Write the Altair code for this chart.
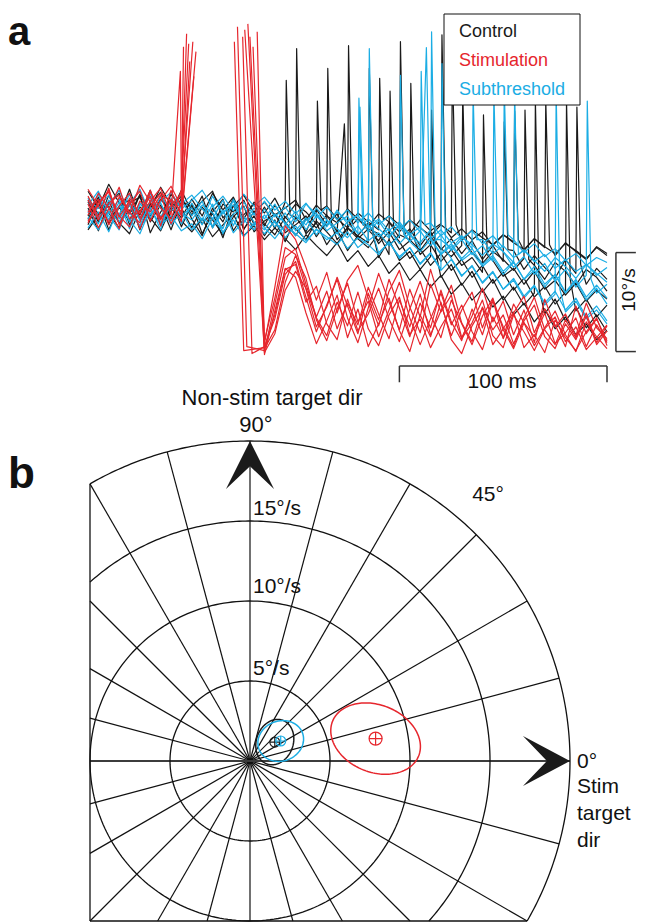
import math
import numpy as np
import pandas as pd
import altair as alt

# ======================= panel a : eye-velocity traces =======================
TIMES = list(range(0, 251, 5))          # ms, sample grid
N = None                                 # blanked samples (stimulation artifact)

CTRL_1 = [0.8,-1.2,1.5,-0.6,2.1,-1.0,0.4,1.8,-0.9,1.2, -0.5,1.4,-1.8,0.6,-0.2,1.0,-1.5,
          0.3,-1.9,0.8,-0.7,-2.2,0.1,-1.6,-0.4,-2.5,-0.9,-2.0,-3.1,-1.2,-2.8,-1.9,-3.6,-2.2,-4.0,-2.9,-4.4,
          -3.1,-5.0,-3.6,-5.2,-4.1,-6.0,-4.6,-5.8,-6.9,-5.0,-6.4,-7.5,-5.9,-7.0]
CTRL_2 = [-1.5,0.9,-2.0,0.3,-1.1,1.6,-2.3,-0.2,1.0,-1.7, 0.6,-2.4,-0.3,-2.8,0.5,-1.9,-0.6,
          -2.6,-1.0,-3.2,-0.8,-2.4,-1.3,-3.5,-2.0,-4.1,-2.6,-3.3,-4.8,-3.0,-5.1,-4.2,-6.0,-4.7,-6.8,-5.5,-7.6,
          -6.2,-8.3,-7.0,-9.1,-7.8,-9.6,-8.4,-10.5,-9.0,-11.2,-9.8,-11.9,-10.6,-12.3]
CTRL_3 = [1.9,0.2,2.6,0.7,-0.4,1.5,0.1,2.3,0.5,-0.8, 1.1,-0.6,1.7,0.0,1.3,-0.9,0.8,
          -0.3,1.2,-0.8,0.6,-0.2,-1.4,0.4,-0.9,-1.8,-0.3,-1.2,-2.0,-0.6,-1.5,-2.4,-1.0,-2.1,-1.4,-2.8,-1.9,
          -3.0,-2.2,-3.6,-2.5,-3.2,-4.1,-2.9,-3.8,-4.6,-3.3,-4.2,-5.0,-3.7,-4.4]
CTRL_4 = [-0.6,1.3,-1.4,0.4,1.0,-2.0,0.7,-0.9,1.6,0.2, -1.8,0.3,-1.0,-2.5,-0.7,0.4,-2.2,
          -1.1,-0.4,-2.3,-1.5,-0.6,-2.7,-1.2,-3.0,-1.8,-2.6,-1.3,-3.4,-2.2,-4.0,-3.1,-4.5,-3.5,-5.2,-4.0,-5.6,
          -4.8,-6.3,-5.1,-6.7,-5.9,-7.5,-6.2,-8.0,-7.1,-8.6,-7.4,-9.2,-8.1,-9.0]
CTRL_5 = [0.2,-2.1,0.9,-1.3,0.0,-0.5,2.0,-1.6,0.3,1.4, -0.9,-2.6,0.2,-1.2,1.2,-2.0,-0.1,
          -1.6,0.5,-1.2,-2.6,-0.9,-1.8,-0.5,-2.2,-1.0,-2.9,-1.9,-2.4,-3.6,-2.5,-3.0,-4.1,-2.7,-3.9,-4.7,-3.6,
          -4.3,-5.4,-4.2,-5.0,-6.1,-4.9,-5.6,-7.0,-5.3,-6.2,-7.6,-6.0,-6.8,-8.2]
CTRL_6 = [-0.9,1.1,-0.3,-1.8,0.7,1.3,-1.2,0.5,-2.0,0.9, 0.3,-1.4,-0.2,1.1,-2.1,-0.5,0.6,
          -1.4,-2.5,-0.7,-1.9,-3.0,-1.1,-2.2,-3.4,-1.8,-2.9,-3.8,-2.4,-4.5,-3.2,-4.9,-3.9,-5.6,-4.4,-6.1,-5.0,
          -6.8,-5.6,-7.4,-6.3,-8.1,-6.9,-8.8,-7.7,-9.5,-8.3,-10.2,-9.0,-10.8,-9.6]
CTRL_7 = [1.0,-0.4,0.6,1.7,-1.5,0.3,-0.6,1.1,-0.2,2.0, -0.2,0.9,1.9,-0.8,0.4,1.5,-0.3,
          0.8,-0.5,0.2,1.0,-1.0,0.5,-0.6,-1.3,0.1,-0.9,-1.7,-0.4,-1.2,-2.2,-1.0,-1.8,-2.6,-1.5,-2.3,-3.1,
          -2.0,-2.8,-3.5,-2.5,-3.3,-4.0,-2.9,-3.7,-4.4,-3.4,-4.1,-4.9,-3.8,-4.6]
CTRL_8 = [-2.0,-0.5,0.4,-1.3,-2.4,0.0,-0.8,-2.1,0.2,-1.1, -2.2,-0.9,-2.7,-1.5,-0.4,-2.6,-1.6,
          -3.0,-1.8,-2.9,-4.0,-2.5,-3.6,-4.6,-3.3,-5.2,-4.1,-5.7,-4.6,-6.4,-5.3,-7.1,-6.0,-7.8,-6.6,-8.5,-7.4,
          -9.1,-8.0,-9.8,-8.7,-10.6,-9.4,-11.3,-10.0,-12.0,-10.8,-12.6,-11.5,-13.1,-12.2]

SUB_1 = [-0.3,1.6,-1.0,0.8,-1.9,0.5,1.2,-0.7,0.9,-1.4, 0.7,-1.1,1.4,-0.4,0.9,-1.3,0.2,
         -0.9,0.6,-1.5,-0.1,-2.0,-0.6,-1.7,0.0,-1.4,-2.3,-0.9,-1.9,-2.8,-1.4,-2.6,-3.3,-2.0,-3.0,-3.9,-2.7,
         -3.5,-4.6,-3.4,-4.2,-5.3,-4.0,-5.1,-6.2,-4.8,-5.7,-6.9,-5.5,-6.4,-7.3]
SUB_2 = [1.2,-0.8,0.5,2.0,-0.3,-1.6,0.9,0.2,-1.1,0.6, 1.5,0.1,-0.9,1.0,-1.6,0.8,-0.5,
         0.9,-0.7,0.3,-1.2,0.6,-0.4,-1.5,-0.2,-1.1,-0.5,-1.8,-0.9,-2.1,-1.2,-2.5,-1.7,-2.9,-2.0,-3.3,-2.6,
         -3.9,-3.0,-4.4,-3.6,-4.8,-4.1,-5.2,-4.5,-5.9,-5.0,-6.2,-5.5,-6.6,-5.8]
SUB_3 = [-1.8,-0.2,-2.2,0.4,-1.0,-2.4,0.1,-1.5,-0.6,-2.1, -1.4,-2.9,-0.8,-2.2,-1.0,-2.7,-1.3,
         -2.4,-1.1,-2.8,-1.6,-3.1,-2.0,-2.7,-3.5,-2.2,-3.8,-2.9,-4.3,-3.3,-4.7,-3.8,-5.4,-4.3,-6.0,-4.9,-6.6,
         -5.7,-7.4,-6.3,-8.0,-7.1,-8.9,-7.7,-9.6,-8.5,-10.3,-9.2,-11.0,-10.1,-11.5]
SUB_4 = [0.5,1.9,-0.4,1.1,-1.2,0.7,-0.8,1.4,-0.1,0.9, -0.6,0.9,-1.8,-0.2,0.5,-1.0,-2.0,
         -0.5,-1.7,-0.3,-2.1,-0.8,-2.5,-1.0,-1.9,-2.8,-1.6,-3.1,-2.3,-3.6,-2.6,-3.2,-4.2,-3.0,-4.5,-3.6,-5.1,
         -4.3,-5.7,-4.8,-6.5,-5.3,-7.0,-6.1,-7.8,-6.5,-8.4,-7.2,-9.1,-7.9,-9.5]
SUB_5 = [-1.0,0.3,-0.6,-2.0,0.8,-0.9,1.7,-1.3,0.4,-0.5, 0.2,-1.5,0.6,-2.4,-0.4,0.3,-1.2,
         -2.0,-0.4,-1.3,-2.6,-1.0,-0.3,-2.1,-1.3,-0.6,-2.4,-1.5,-2.7,-1.9,-3.4,-2.3,-3.9,-2.8,-4.4,-3.4,-4.9,
         -3.9,-5.5,-4.6,-6.2,-5.2,-7.0,-5.7,-7.5,-6.5,-8.3,-7.0,-8.8,-7.6,-8.9]
SUB_6 = [0.0,-1.4,1.0,-0.5,1.6,-1.1,0.3,-2.0,1.2,-0.3, -1.0,0.5,-0.3,-1.9,1.1,-0.7,-1.6,
         0.1,-1.3,-2.1,-0.6,-1.5,0.2,-1.0,-2.4,-1.2,-0.5,-2.2,-1.1,-2.6,-1.6,-3.2,-2.1,-3.6,-2.5,-4.1,-3.0,
         -4.5,-3.6,-5.2,-4.2,-5.8,-4.7,-6.5,-5.4,-7.2,-6.0,-7.8,-6.6,-8.4,-7.5]
SUB_7 = [0.9,0.2,1.5,-0.9,0.6,2.1,-0.5,0.8,1.8,0.1, 1.0,2.0,0.3,1.4,-0.1,1.6,0.4,
         1.3,0.0,0.9,-0.4,0.7,-0.8,0.3,-1.0,0.0,-1.3,-0.3,-1.5,-0.6,-1.9,-1.0,-2.2,-1.3,-2.6,-1.7,-2.9,
         -2.1,-3.4,-2.6,-3.8,-3.0,-4.3,-3.4,-4.7,-3.9,-5.1,-4.4,-5.6,-4.8,-5.3]
SUB_8 = [-0.7,-2.0,-0.1,-1.2,0.5,-1.7,-0.4,0.7,-1.5,-0.2, -2.0,-0.8,-1.6,0.0,-2.3,-1.1,-0.3,
         -1.8,-2.9,-1.5,-2.4,-3.3,-1.9,-3.0,-2.3,-3.9,-2.8,-3.5,-4.5,-3.2,-4.9,-3.8,-5.5,-4.4,-6.1,-5.0,-6.7,
         -5.6,-7.3,-6.2,-8.0,-6.9,-8.7,-7.6,-9.4,-8.2,-10.1,-8.9,-10.8,-9.7,-11.2]

STIM_1 = [1.4,-0.7,2.2,-1.5,0.6,1.9,-1.1,1.0,2.4,0.3, N,N,N,N,N,N,N,
          -14.2,-9.5,-4.8,-3.9,-7.5,-10.8,-8.2,-12.0,-9.4,-11.6,-7.8,-10.5,-13.0,-9.1,-11.8,-8.5,-12.6,-10.2,
          -7.6,-11.4,-13.3,-9.8,-12.1,-10.6,-13.5,-11.2,-9.6,-12.8,-14.0,-11.5,-13.1,-10.7,-13.6,-12.2]
STIM_2 = [-0.5,1.7,0.2,-1.9,1.2,-0.4,2.0,-0.8,0.5,1.6, N,N,N,N,N,N,N,
          -13.8,-11.0,-6.5,-5.2,-8.8,-12.3,-9.6,-7.0,-10.9,-13.4,-9.9,-6.4,-9.3,-12.1,-8.0,-10.8,-6.0,-9.5,
          -12.7,-10.1,-8.3,-11.9,-9.0,-13.0,-10.4,-8.7,-12.4,-10.0,-11.6,-13.8,-9.7,-12.5,-11.0,-13.2]
STIM_3 = [2.1,0.4,-1.2,1.3,-0.3,2.5,0.8,-1.0,1.1,-0.2, N,N,N,N,N,N,N,
          -14.6,-10.2,-5.9,-6.8,-10.4,-13.5,-11.2,-8.6,-12.9,-10.0,-13.8,-11.5,-8.9,-12.2,-14.3,-10.6,-12.8,-9.3,
          -13.1,-14.5,-11.7,-9.9,-13.6,-12.0,-10.3,-13.9,-12.6,-14.4,-11.1,-12.9,-14.2,-12.3,-10.9,-13.7]
STIM_4 = [-1.3,0.8,1.8,-0.6,-1.7,0.9,-0.2,1.5,-1.4,0.7, N,N,N,N,N,N,N,
          -13.5,-7.8,-1.6,-3.0,-5.8,-9.1,-6.3,-10.4,-7.1,-5.6,-8.9,-11.7,-8.2,-6.1,-9.8,-12.4,-7.5,-10.3,
          -8.6,-12.9,-10.7,-7.9,-11.3,-9.2,-12.6,-10.1,-13.4,-9.0,-11.8,-10.5,-12.7,-9.4,-11.9,-13.0]
STIM_5 = [0.6,-1.8,0.1,2.3,-0.9,-0.1,1.4,-1.6,2.0,-0.6, N,N,N,N,N,N,N,
          -14.0,-12.1,-7.3,-4.6,-6.9,-11.1,-13.2,-10.0,-7.4,-11.3,-9.2,-12.8,-10.1,-7.3,-10.9,-13.6,-11.0,-8.4,
          -11.6,-9.6,-12.3,-14.1,-10.8,-12.9,-9.5,-11.4,-13.7,-11.9,-10.2,-12.6,-14.3,-11.3,-12.8,-14.0]
STIM_6 = [-0.2,1.1,-1.5,0.4,1.7,-0.8,0.9,2.2,-0.5,1.0, N,N,N,N,N,N,N,
          -13.9,-10.6,-6.0,-5.5,-9.3,-7.7,-11.5,-13.1,-9.0,-12.2,-10.5,-7.9,-11.0,-13.3,-10.0,-7.2,-10.6,-12.9,
          -9.1,-11.5,-13.6,-10.7,-8.9,-12.1,-14.0,-11.4,-12.8,-10.4,-13.5,-12.4,-10.9,-13.8,-11.6,-13.4]
STIM_7 = [1.0,-1.0,0.7,1.5,-0.2,-1.3,1.8,0.2,-0.9,2.0, N,N,N,N,N,N,N,
          -14.4,-12.5,-8.1,-6.2,-7.9,-10.9,-12.7,-9.3,-11.7,-8.3,-12.0,-13.7,-10.6,-8.8,-12.6,-11.0,-13.9,-11.8,
          -10.0,-13.0,-11.4,-9.1,-12.7,-13.9,-10.6,-12.3,-14.2,-12.0,-10.8,-13.3,-11.8,-14.1,-12.9,-11.6]
STIM_8 = [-1.1,0.5,2.0,-0.7,0.9,-1.9,0.4,1.7,0.8,-1.2, N,N,N,N,N,N,N,
          -13.2,-8.9,-3.8,-4.5,-8.0,-11.8,-9.8,-6.8,-9.7,-12.5,-8.4,-11.1,-7.0,-9.9,-12.8,-9.4,-11.9,-8.1,
          -11.3,-13.2,-10.0,-12.6,-9.2,-11.8,-13.8,-10.9,-8.8,-12.1,-13.6,-11.1,-12.9,-10.4,-13.4,-11.7]

# saccade-like spikes: (peak time ms, peak deg/s, value after the spike deg/s)
SPIKES = {
    "C1": [(95.5, 13.1, -0.5), (125.5, 16.6, -1.5), (150.5, 17.0, -2.5), (200.5, 8.9, -4.0), (235.5, 10.4, -5.5)],
    "C2": [(100.5, 16.3, -1.0), (135.5, 14.3, -2.5), (165.5, 10.1, -4.0), (215.5, 11.1, -8.0)],
    "C3": [(110.5, 11.0, 0.0), (140.5, 13.3, -1.0), (170.5, 17.7, -2.0), (205.5, 10.0, -3.0), (220.5, 11.1, -3.5)],
    "C4": [(115.5, 14.3, -1.5), (155.5, 12.8, -3.0), (190.5, 9.6, -4.5)],
    "C5": [(123.5, 8.7, -1.0), (180.5, 12.1, -3.5), (210.5, 10.1, -5.0)],
    "C6": [(145.5, 12.0, -2.5), (230.5, 11.0, -7.0)],
    "C7": [(175.5, 15.0, -1.5)],
    "S1": [(130.5, 11.3, -1.5), (165.5, 18.0, -3.0), (205.5, 12.0, -4.5)],
    "S2": [(131.0, 10.4, -1.0), (185.5, 12.0, -3.0)],
    "S3": [(135.5, 16.3, -2.5), (170.5, 14.8, -4.0), (225.5, 12.0, -8.0)],
    "S4": [(150.5, 13.6, -2.5)],
    "S5": [(163.0, 16.4, -2.0)],
    "S6": [(195.5, 12.0, -3.5), (240.5, 11.0, -7.0)],
    "S7": [(160.5, 14.0, -1.5), (200.5, 12.5, -2.5)],
}
SPIKE_FALL = 1.8   # ms from spike peak back to the trace

# stimulation traces: onset spike before blanking, artifact points after blanking (time, deg/s)
STIM_EXTRA = {
    "R1": [(46.0, 16.5), (72.0, 18.5), (76.5, -13.8)],
    "R2": [(47.5, 17.8), (74.5, 17.5), (79.0, -14.5)],
    "R3": [(49.0, 15.0), (77.0, 18.8)],
    "R4": [(50.5, 17.0), (79.5, 16.5)],
    "R5": [(52.0, 16.0), (81.5, 18.0)],
    "R6": [(44.5, 14.0), (70.5, 17.0), (75.0, -14.2)],
    "R7": [(48.5, 16.8), (75.5, 18.2)],
    "R8": [(51.0, 13.5), (78.0, 17.5)],
}
BLANK_SPLIT = 60   # ms: stimulation traces are broken here

GROUPS = [
    ("Control", "#1a1a1a", [("C1", CTRL_1), ("C2", CTRL_2), ("C3", CTRL_3), ("C4", CTRL_4),
                            ("C5", CTRL_5), ("C6", CTRL_6), ("C7", CTRL_7), ("C8", CTRL_8)], False),
    ("Subthreshold", "#1BADE4", [("S1", SUB_1), ("S2", SUB_2), ("S3", SUB_3), ("S4", SUB_4),
                                 ("S5", SUB_5), ("S6", SUB_6), ("S7", SUB_7), ("S8", SUB_8)], False),
    ("Stimulation", "#E6262D", [("R1", STIM_1), ("R2", STIM_2), ("R3", STIM_3), ("R4", STIM_4),
                                ("R5", STIM_5), ("R6", STIM_6), ("R7", STIM_7), ("R8", STIM_8)], True),
]


def build(name, values, split):
    assert len(values) == len(TIMES), name
    pts = [(t, v) for t, v in zip(TIMES, values) if v is not None]
    for t, peak, back in SPIKES.get(name, []):
        pts += [(t, peak), (t + SPIKE_FALL, back)]
    pts += STIM_EXTRA.get(name, [])
    pts.sort()
    rows = []
    for t, v in pts:
        seg = (1 if t > BLANK_SPLIT else 0) if split else 0
        rows.append({"t": t, "v": v, "seg": f"{name}-{seg}"})
    return rows


XA = alt.Scale(domain=[0, 250], range=[80, 599], nice=False, zero=False)
YA = alt.Scale(domain=[-15, 19], range=[350.5, 13.9], nice=False, zero=False)
XB = alt.Scale(domain=[-10, 20], range=[82, 562], nice=False, zero=False)
YB = alt.Scale(domain=[-10, 20], range=[913, 433], nice=False, zero=False)

FONT = "Liberation Sans"
layers = []

for cond, color, traces, split in GROUPS:
    rows = []
    for name, vals in traces:
        rows += build(name, vals, split)
    df = pd.DataFrame(rows)
    layers.append(
        alt.Chart(df).mark_line(color=color, strokeWidth=1.2, strokeJoin="round").encode(
            x=alt.X("t:Q", scale=XA, axis=None),
            y=alt.Y("v:Q", scale=YA, axis=None),
            detail="seg:N",
        )
    )

# legend box
LEGEND = [("Control", "#1a1a1a"), ("Stimulation", "#E6262D"), ("Subthreshold", "#1BADE4")]
one = pd.DataFrame({"k": [0]})
layers.append(alt.Chart(one).mark_rect(fill="white", stroke="#111", strokeWidth=1).encode(
    x=alt.value(436), x2=alt.value(572), y=alt.value(6), y2=alt.value(97)))
for i, (lab, col) in enumerate(LEGEND):
    layers.append(alt.Chart(pd.DataFrame({"label": [lab]})).mark_text(
        align="left", baseline="alphabetic", font=FONT, fontSize=18, color=col).encode(
        x=alt.value(451), y=alt.value(29 + 29 * i), text="label:N"))

# scale bars (100 ms, 10 deg/s)
SB_T0, SB_T1, SB_V = 150, 250, -15.76
SB_TICK = -17.4
VB_T, VB_V0, VB_V1, VB_TICK_T = 254.3, -14.3, -4.3, 263.9
bars = pd.DataFrame([
    {"t": SB_T0, "v": SB_V, "t2": SB_T1, "v2": SB_V},
    {"t": SB_T0, "v": SB_V, "t2": SB_T0, "v2": SB_TICK},
    {"t": SB_T1, "v": SB_V, "t2": SB_T1, "v2": SB_TICK},
    {"t": VB_T, "v": VB_V0, "t2": VB_T, "v2": VB_V1},
    {"t": VB_T, "v": VB_V0, "t2": VB_TICK_T, "v2": VB_V0},
    {"t": VB_T, "v": VB_V1, "t2": VB_TICK_T, "v2": VB_V1},
])
layers.append(alt.Chart(bars).mark_rule(color="#333", strokeWidth=1.5).encode(
    x=alt.X("t:Q", scale=XA, axis=None), y=alt.Y("v:Q", scale=YA, axis=None),
    x2="t2:Q", y2="v2:Q"))


def label(text, x, y, size=21, align="left", baseline="alphabetic", angle=0, weight="normal",
          font=FONT, color="#111"):
    kw = dict(align=align, baseline=baseline, font=font, fontSize=size, color=color, fontWeight=weight)
    if angle:
        kw["angle"] = angle
    return alt.Chart(pd.DataFrame({"label": [text]})).mark_text(**kw).encode(
        x=alt.value(x), y=alt.value(y), text="label:N")


layers.append(label("100 ms", 494, 380, align="center"))
layers.append(label("10°/s", 621, 282, size=19, align="center", baseline="middle", angle=270))
layers.append(label("a", 0, 37, size=40, weight="bold"))
layers.append(label("b", 0, 480, size=44, weight="bold"))

# ======================= panel b : polar plot =======================
RINGS = [5, 10, 15, 20]        # deg/s
SPOKE_STEP = 15                # deg
R_MAX = 20
BOX_MIN = -10

# spokes clipped to the box
spokes = []
for a in range(0, 360, SPOKE_STEP):
    th = math.radians(a)
    c, s = math.cos(th), math.sin(th)
    r = R_MAX
    if c < -1e-9:
        r = min(r, BOX_MIN / c)
    if s < -1e-9:
        r = min(r, BOX_MIN / s)
    spokes.append({"x": 0.0, "y": 0.0, "x2": r * c, "y2": r * s, "axis": a % 180 == 0})
spk = pd.DataFrame(spokes)
layers.append(alt.Chart(spk[~spk["axis"]]).mark_rule(color="#111", strokeWidth=1.2).encode(
    x=alt.X("x:Q", scale=XB, axis=None), y=alt.Y("y:Q", scale=YB, axis=None), x2="x2:Q", y2="y2:Q"))
layers.append(alt.Chart(spk[spk["axis"]]).mark_rule(color="#3c3c3c", strokeWidth=2).encode(
    x=alt.X("x:Q", scale=XB, axis=None), y=alt.Y("y:Q", scale=YB, axis=None), x2="x2:Q", y2="y2:Q"))

# box edges
edge = math.sqrt(R_MAX ** 2 - BOX_MIN ** 2)
edges = pd.DataFrame([
    {"x": BOX_MIN, "y": BOX_MIN, "x2": BOX_MIN, "y2": edge},
    {"x": BOX_MIN, "y": BOX_MIN, "x2": edge, "y2": BOX_MIN},
])
layers.append(alt.Chart(edges).mark_rule(color="#111", strokeWidth=1.3).encode(
    x=alt.X("x:Q", scale=XB, axis=None), y=alt.Y("y:Q", scale=YB, axis=None), x2="x2:Q", y2="y2:Q"))

# ring arcs clipped to the box
ring_rows = []
for r in RINGS:
    if r <= -BOX_MIN:
        lo, hi = 0.0, 2 * math.pi
    else:
        lo, hi = -math.asin(-BOX_MIN / r), math.acos(BOX_MIN / r)
    for i, th in enumerate(np.linspace(lo, hi, 240)):
        ring_rows.append({"ring": r, "i": i, "x": r * math.cos(th), "y": r * math.sin(th)})
layers.append(alt.Chart(pd.DataFrame(ring_rows)).mark_line(color="#111", strokeWidth=1.3).encode(
    x=alt.X("x:Q", scale=XB, axis=None), y=alt.Y("y:Q", scale=YB, axis=None),
    detail="ring:N", order="i:Q"))

# confidence ellipses and means
ELLIPSES = [
    # name, cx, cy, semi-a, semi-b, tilt deg, colour
    ("Control", 1.55, 1.18, 1.45, 1.15, 70, "#1a1a1a"),
    ("Subthreshold", 1.92, 1.25, 1.45, 1.25, 20, "#1BADE4"),
    ("Stimulation", 7.85, 1.40, 2.90, 2.10, -22, "#E6262D"),
]
for name, cx, cy, a, b, tilt, col in ELLIPSES:
    ph = math.radians(tilt)
    rows = []
    for i, u in enumerate(np.linspace(0, 2 * math.pi, 160)):
        ex, ey = a * math.cos(u), b * math.sin(u)
        rows.append({"i": i, "x": cx + ex * math.cos(ph) - ey * math.sin(ph),
                     "y": cy + ex * math.sin(ph) + ey * math.cos(ph)})
    layers.append(alt.Chart(pd.DataFrame(rows)).mark_line(color=col, strokeWidth=1.5).encode(
        x=alt.X("x:Q", scale=XB, axis=None), y=alt.Y("y:Q", scale=YB, axis=None), order="i:Q"))
    msize = 170 if name == "Stimulation" else 100
    ctr = pd.DataFrame({"x": [cx], "y": [cy]})
    for shape in ["circle", "M-1,0L1,0M0,-1L0,1"]:
        layers.append(alt.Chart(ctr).mark_point(shape=shape, filled=False, color=col, size=msize,
                                                strokeWidth=1.2, opacity=1).encode(
            x=alt.X("x:Q", scale=XB, axis=None), y=alt.Y("y:Q", scale=YB, axis=None)))

# arrowheads at 90 deg and 0 deg
UP = "M0,-1L1,1L0,0.05L-1,1Z"
RIGHT = "M1,0L-1,-1.06L0.02,0L-1,1.06Z"
layers.append(alt.Chart(pd.DataFrame({"x": [0.0], "y": [R_MAX - 1.5]})).mark_point(
    shape=UP, filled=True, color="#1a1a1a", size=2304, opacity=1).encode(
    x=alt.X("x:Q", scale=XB, axis=None), y=alt.Y("y:Q", scale=YB, axis=None)))
layers.append(alt.Chart(pd.DataFrame({"x": [R_MAX - 1.47], "y": [0.0]})).mark_point(
    shape=RIGHT, filled=True, color="#1a1a1a", size=2209, opacity=1).encode(
    x=alt.X("x:Q", scale=XB, axis=None), y=alt.Y("y:Q", scale=YB, axis=None)))

# polar labels
layers.append(label("Non-stim target dir", 264, 397, size=22, align="center"))
layers.append(label("90°", 248, 424, size=22, align="center"))
layers.append(label("15°/s", 245, 507))
layers.append(label("10°/s", 245, 585))
layers.append(label("5°/s", 245, 667))
layers.append(label("45°", 480, 493, align="center"))
layers.append(label("0°", 569, 760))
layers.append(label("Stim", 569, 785))
layers.append(label("target", 569, 812))
layers.append(label("dir", 569, 839))

chart = alt.layer(*layers).resolve_scale(x="independent", y="independent").properties(
    width=630, height=915, autosize=alt.AutoSizeParams(type="none"), padding=0
).configure_view(stroke=None)

chart.save("out.html", embed_options={"renderer": "svg", "actions": False})
